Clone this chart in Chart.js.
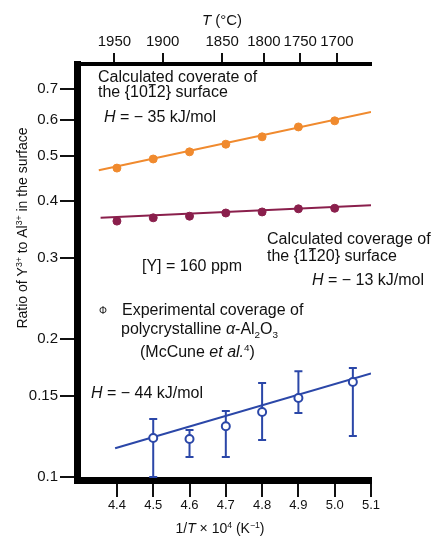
<!DOCTYPE html>
<html>
<head>
<meta charset="utf-8">
<script src="https://cdn.jsdelivr.net/npm/chart.js@4.4.0/dist/chart.umd.min.js"></script>
<style>
body { margin: 0; background: #fff; }
canvas { display: block; }
</style>
</head>
<body>
<canvas id="coverage_chart" width="431" height="537"></canvas>
<script>
// Values

const calcX = [4.4, 4.5, 4.6, 4.7, 4.8, 4.9, 5.0];
const ratio1012 = [0.471, 0.493, 0.511, 0.531, 0.551, 0.579, 0.597];
const ratio1120 = [0.361, 0.367, 0.370, 0.376, 0.378, 0.384, 0.385];

const fitX1012 = [4.35, 5.1];
const fit1012 = [0.466, 0.624];
const fitX1120 = [4.355, 5.1];
const fit1120 = [0.367, 0.391];

const expX = [4.5, 4.6, 4.7, 4.8, 4.9, 5.05];
const ratioExp = [0.1216, 0.121, 0.129, 0.1386, 0.1486, 0.161];
const errLow = [0.100, 0.1105, 0.1105, 0.1204, 0.1378, 0.1228];
const errHigh = [0.1337, 0.1266, 0.1392, 0.1602, 0.170, 0.1728];

const fitXExp = [4.395, 5.1];
const fitExp = [0.1155, 0.168];

const bottomTicks = [4.4, 4.5, 4.6, 4.7, 4.8, 4.9, 5.0, 5.1];
const bottomTickLabels = ['4.4', '4.5', '4.6', '4.7', '4.8', '4.9', '5.0', '5.1'];
const topTickPos = [4.393, 4.526, 4.69, 4.805, 4.905, 5.006];
const topTickLabels = ['1950', '1900', '1850', '1800', '1750', '1700'];
const yTicks = [0.1, 0.15, 0.2, 0.3, 0.4, 0.5, 0.6, 0.7];
const yTickLabels = ['0.1', '0.15', '0.2', '0.3', '0.4', '0.5', '0.6', '0.7'];

const ORANGE = '#f08a2e';
const MAROON = '#8a1f4c';
const BLUE = '#2b47a8';
const INK = '#111';
const FONT = '"Liberation Sans", Arial, Helvetica, sans-serif';

const pts = (xs, ys) => xs.map((x, i) => ({ x: x, y: ys[i] }));

// text with italics, superscripts, subscripts and overbars
function drawRich(ctx, parts, x, y, size, align) {
    const fonts = parts.map(p => {
        const s = (p.sup || p.sub) ? size * 0.62 : size;
        return (p.i ? 'italic ' : '') + s + 'px ' + FONT;
    });
    let total = 0;
    parts.forEach((p, k) => { ctx.font = fonts[k]; total += ctx.measureText(p.t).width; });
    let cx = align === 'center' ? x - total / 2 : x;
    ctx.textAlign = 'left';
    ctx.textBaseline = 'alphabetic';
    parts.forEach((p, k) => {
        ctx.font = fonts[k];
        const dy = p.sup ? -size * 0.38 : (p.sub ? size * 0.22 : 0);
        ctx.fillText(p.t, cx, y + dy);
        const w = ctx.measureText(p.t).width;
        if (p.bar) {
            ctx.save();
            ctx.strokeStyle = INK;
            ctx.lineWidth = 1.2;
            ctx.beginPath();
            ctx.moveTo(cx + 1, y - size * 0.77);
            ctx.lineTo(cx + w - 1, y - size * 0.77);
            ctx.stroke();
            ctx.restore();
        }
        cx += w;
    });
}

const errorBars = {
    id: 'errorBars',
    beforeDatasetsDraw(chart) {
        const { ctx, chartArea, scales } = chart;
        ctx.save();
        ctx.beginPath();
        ctx.rect(chartArea.left, chartArea.top, chartArea.right - chartArea.left, chartArea.bottom - chartArea.top);
        ctx.clip();
        ctx.strokeStyle = BLUE;
        ctx.lineWidth = 2;
        expX.forEach((xv, i) => {
            const px = scales.x.getPixelForValue(xv);
            const hi = scales.y.getPixelForValue(errHigh[i]);
            const lo = scales.y.getPixelForValue(errLow[i]);
            ctx.beginPath();
            ctx.moveTo(px, hi); ctx.lineTo(px, lo);
            ctx.moveTo(px - 4, hi); ctx.lineTo(px + 4, hi);
            ctx.moveTo(px - 4, lo); ctx.lineTo(px + 4, lo);
            ctx.stroke();
        });
        ctx.restore();
    }
};

const labels = {
    id: 'labels',
    afterDraw(chart) {
        const ctx = chart.ctx;
        ctx.save();
        ctx.fillStyle = INK;

        // axis titles
        drawRich(ctx, [{ t: 'T', i: true }, { t: ' (°C)' }], 222, 25, 15, 'center');
        drawRich(ctx, [{ t: '1/' }, { t: 'T', i: true }, { t: ' × 10' }, { t: '4', sup: true },
            { t: ' (K' }, { t: '−1', sup: true }, { t: ')' }], 220, 533, 14, 'center');
        ctx.save();
        ctx.translate(27, 228);
        ctx.rotate(-Math.PI / 2);
        drawRich(ctx, [{ t: 'Ratio of Y' }, { t: '3+', sup: true }, { t: ' to Al' }, { t: '3+', sup: true },
            { t: ' in the surface' }], 0, 0, 14, 'center');
        ctx.restore();

        // annotations
        const s = 16;
        drawRich(ctx, [{ t: 'Calculated coverate of' }], 98, 82, s);
        drawRich(ctx, [{ t: 'the {10' }, { t: '1', bar: true }, { t: '2} surface' }], 98, 97, s);
        drawRich(ctx, [{ t: 'H', i: true }, { t: ' = − 35 kJ/mol' }], 104, 122, s);

        drawRich(ctx, [{ t: 'Calculated coverage of' }], 267, 244, s);
        drawRich(ctx, [{ t: 'the {1' }, { t: '1', bar: true }, { t: '20} surface' }], 267, 261, s);
        drawRich(ctx, [{ t: 'H', i: true }, { t: ' = − 13 kJ/mol' }], 312, 285, s);

        drawRich(ctx, [{ t: '[Y] = 160 ppm' }], 142, 271, s);

        drawRich(ctx, [{ t: 'Φ' }], 99, 314, 10);
        drawRich(ctx, [{ t: 'Experimental coverage of' }], 122, 315, s);
        drawRich(ctx, [{ t: 'polycrystalline ' }, { t: 'α', i: true }, { t: '-Al' }, { t: '2', sub: true },
            { t: 'O' }, { t: '3', sub: true }], 121, 334, s);
        drawRich(ctx, [{ t: '(McCune ' }, { t: 'et al.', i: true }, { t: '4', sup: true }, { t: ')' }], 140, 357, s);
        drawRich(ctx, [{ t: 'H', i: true }, { t: ' = − 44 kJ/mol' }], 91, 398, s);
        ctx.restore();
    }
};

const ctx = document.getElementById('coverage_chart').getContext('2d');
const coverage_chart = new Chart(ctx, {
    type: 'scatter',
    data: {
        datasets: [
            {
                data: pts(calcX, ratio1012),
                backgroundColor: ORANGE, borderColor: ORANGE,
                pointRadius: 4, order: 0
            },
            {
                data: pts(calcX, ratio1120),
                backgroundColor: MAROON, borderColor: MAROON,
                pointRadius: 4, order: 0
            },
            {
                data: pts(expX, ratioExp),
                backgroundColor: '#fff', borderColor: BLUE,
                pointRadius: 4, borderWidth: 2, order: 0
            },
            {
                data: pts(fitX1012, fit1012), showLine: true,
                borderColor: ORANGE, borderWidth: 2, pointRadius: 0, order: 1
            },
            {
                data: pts(fitX1120, fit1120), showLine: true,
                borderColor: MAROON, borderWidth: 2, pointRadius: 0, order: 1
            },
            {
                data: pts(fitXExp, fitExp), showLine: true,
                borderColor: BLUE, borderWidth: 2, pointRadius: 0, order: 1
            }
        ]
    },
    options: {
        responsive: false,
        animation: false,
        devicePixelRatio: 1,
        layout: { padding: { left: 0, right: 60, top: 0, bottom: 0 } },
        plugins: {
            legend: { display: false },
            tooltip: { enabled: false }
        },
        scales: {
            x: {
                type: 'linear',
                position: 'bottom',
                min: 4.29,
                max: 5.1,
                afterBuildTicks: s => { s.ticks = bottomTicks.map(v => ({ value: v })); },
                afterFit: s => { s.height = 57; },
                ticks: {
                    autoSkip: false, maxRotation: 0, padding: 1,
                    color: INK, font: { family: FONT, size: 13 },
                    callback: (v, i) => bottomTickLabels[i]
                },
                grid: { drawOnChartArea: false, tickLength: 17, lineWidth: 2, color: INK },
                border: { display: true, width: 7, color: '#000' }
            },
            x2: {
                type: 'linear',
                position: 'top',
                min: 4.29,
                max: 5.1,
                afterBuildTicks: s => { s.ticks = topTickPos.map(v => ({ value: v })); },
                afterFit: s => { s.height = 64; },
                ticks: {
                    autoSkip: false, maxRotation: 0, padding: 2,
                    color: INK, font: { family: FONT, size: 15 },
                    callback: (v, i) => topTickLabels[i]
                },
                grid: { drawOnChartArea: false, tickLength: 11, lineWidth: 2, color: INK },
                border: { display: true, width: 4, color: '#000' }
            },
            y: {
                type: 'logarithmic',
                position: 'left',
                min: 0.0985,
                max: 0.794,
                afterBuildTicks: s => { s.ticks = yTicks.map(v => ({ value: v })); },
                afterFit: s => { s.width = 77; },
                ticks: {
                    autoSkip: false, padding: 2,
                    color: INK, font: { family: FONT, size: 15 },
                    callback: (v, i) => yTickLabels[i]
                },
                grid: { drawOnChartArea: false, tickLength: 17, lineWidth: 2, color: INK },
                border: { display: true, width: 7, color: '#000' }
            }
        }
    },
    plugins: [errorBars, labels]
});
</script>
</body>
</html>
